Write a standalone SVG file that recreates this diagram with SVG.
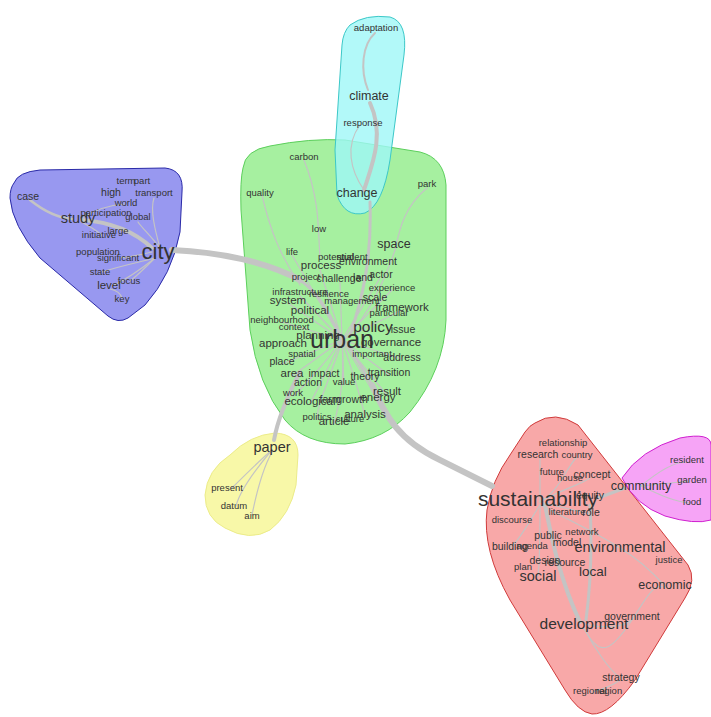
<svg xmlns="http://www.w3.org/2000/svg" width="711" height="717" viewBox="0 0 711 717">
<style>
text{font-family:"Liberation Sans",Arial,sans-serif;fill:#333;text-anchor:middle}
.s9{font-size:9.5px}.s10{font-size:10.5px}.s11{font-size:11.5px}.s12{font-size:12.5px}.s13{font-size:13.5px}.s14{font-size:14.5px}.s15{font-size:15.5px}.s21{font-size:21px}.s22{font-size:22px}.s24{font-size:25px}
.e{fill:none;stroke:#c4c4c4;stroke-linecap:round}
.t{stroke-width:1.2}
.hb{fill:#9898f0;stroke:#2a2aa8}
.hg{fill:#a6f0a0;stroke:#5ccf5c}
.hc{fill:#9ff8f8;stroke:#3cc8c8;fill-opacity:.8}
.hy{fill:#f8f8a8;stroke:#ecec8a}
.hr{fill:#f8a8a8;stroke:#d03a3a}
.hm{fill:#f27ef2;stroke:#d020d0;fill-opacity:.7}
</style>
<rect width="711" height="717" fill="#fff"/>
<g id="hulls">
<path class="hb" d="M 14,183 Q 18,172 40,170 L 165,168 Q 184,170 182,192 L 180,232 Q 172,275 145,305 L 128,318 Q 118,324 108,316 L 40,258 Q 12,225 10,198 Q 10,188 14,183 Z"/>
<path class="hg" d="M 243,168 Q 245,150 270,146 Q 310,138 345,140 L 420,152 Q 444,158 446,185 L 446,320 Q 444,370 410,412 Q 385,440 345,444 Q 305,444 285,420 Q 258,385 250,330 L 241,210 Q 240,180 243,168 Z"/>
<path class="hc" d="M 350,25 Q 365,14 390,17 Q 408,22 404,55 L 390,160 Q 383,205 365,213 Q 345,218 337,195 L 335,150 L 342,45 Q 343,32 350,25 Z"/>
<path class="hy" d="M 230,455 Q 250,435 275,433 Q 298,434 298,455 L 296,485 Q 290,515 270,530 Q 250,542 225,528 Q 205,518 205,495 Q 207,470 230,455 Z"/>
<path class="hr" d="M 535,423 Q 555,410 578,425 L 688,565 Q 697,580 685,598 L 635,680 Q 610,715 592,714 Q 578,712 565,690 L 510,600 Q 482,550 487,510 Q 492,480 510,455 L 525,432 Q 530,425 535,423 Z"/>
<path class="hm" d="M 622,478 Q 640,450 680,438 Q 711,432 711,445 L 711,520 Q 695,525 665,516 Q 635,505 622,478 Z"/>
</g>
<g id="edges">
<path class="e" stroke-width="6" d="M 172,250 C 215,252 262,260 300,280"/>
<path class="e" stroke-width="3" d="M 300,280 C 318,292 330,315 340,335"/>
<path class="e" stroke-width="6" d="M 372,385 C 385,415 398,440 440,460 L 492,486"/>
<path class="e" stroke-width="3" d="M 350,348 C 360,365 366,375 372,385"/>
<path class="e" stroke-width="4" d="M 300,372 C 288,395 278,418 274,440"/>
<path class="e" stroke-width="3" d="M 350,335 C 362,300 372,260 370,202"/>
<path class="e" stroke-width="4" d="M 364,190 C 372,165 385,135 370,103"/>
<path class="e" stroke-width="2" d="M 368,90 C 360,70 362,45 375,33"/>
<path class="e" stroke-width="4" d="M 82,220 C 110,222 135,232 152,248"/>
<path class="e" stroke-width="2.5" d="M 30,200 C 45,212 60,218 72,219"/>
<path class="e" stroke-width="4" d="M 545,505 C 552,540 560,580 580,622"/>
<path class="e" stroke-width="3" d="M 590,505 C 592,545 590,590 586,620"/>
<path class="e" stroke-width="3" d="M 598,498 L 625,488"/>
<path class="e t" d="M 160,248 C 155,230 150,210 154,198"/>
<path class="e t" d="M 160,248 C 150,235 142,228 138,222"/>
<path class="e t" d="M 155,258 C 140,270 125,280 112,286"/>
<path class="e t" d="M 155,258 C 145,268 138,275 130,281"/>
<path class="e t" d="M 152,252 C 140,255 130,257 120,258"/>
<path class="e t" d="M 155,258 C 140,262 120,266 102,272"/>
<path class="e t" d="M 122,298 C 120,292 115,290 110,289"/>
<path class="e t" d="M 82,222 C 92,228 100,232 102,236"/>
<path class="e t" d="M 82,218 C 95,210 110,205 124,204"/>
<path class="e t" d="M 262,195 C 270,230 280,255 300,285"/>
<path class="e t" d="M 304,160 C 320,200 318,230 320,258"/>
<path class="e t" d="M 427,188 C 400,210 398,240 395,250"/>
<path class="e t" d="M 395,250 C 385,280 370,310 350,335"/>
<path class="e t" d="M 342,340 L 292,255"/>
<path class="e t" d="M 342,340 L 320,270"/>
<path class="e t" d="M 342,340 L 340,282"/>
<path class="e t" d="M 342,340 L 380,278"/>
<path class="e t" d="M 342,340 L 392,290"/>
<path class="e t" d="M 342,340 L 402,310"/>
<path class="e t" d="M 342,340 L 300,296"/>
<path class="e t" d="M 342,340 L 288,303"/>
<path class="e t" d="M 342,340 L 282,322"/>
<path class="e t" d="M 342,340 L 402,359"/>
<path class="e t" d="M 342,340 L 389,375"/>
<path class="e t" d="M 342,340 L 292,376"/>
<path class="e t" d="M 342,340 C 320,370 300,390 293,396"/>
<path class="e t" d="M 342,340 C 330,380 318,400 317,419"/>
<path class="e t" d="M 342,340 C 345,380 340,400 334,424"/>
<path class="e t" d="M 342,340 C 355,380 362,400 365,417"/>
<path class="e t" d="M 342,340 L 386,394"/>
<path class="e t" d="M 342,340 L 378,400"/>
<path class="e t" d="M 342,340 L 310,404"/>
<path class="e t" d="M 342,340 L 344,385"/>
<path class="e t" d="M 342,340 L 282,364"/>
<path class="e t" d="M 364,190 C 350,170 345,145 360,125"/>
<path class="e t" d="M 272,450 C 260,460 245,475 232,488"/>
<path class="e t" d="M 272,450 C 255,470 240,490 236,506"/>
<path class="e t" d="M 272,452 C 262,470 255,500 252,515"/>
<path class="e t" d="M 540,502 C 540,480 540,465 540,458"/>
<path class="e t" d="M 540,502 C 560,490 580,485 590,478"/>
<path class="e t" d="M 540,502 C 560,490 565,470 576,458"/>
<path class="e t" d="M 540,502 L 590,514"/>
<path class="e t" d="M 540,505 C 530,520 520,540 510,548"/>
<path class="e t" d="M 540,505 C 540,540 540,560 538,576"/>
<path class="e t" d="M 540,505 C 570,520 600,535 620,548"/>
<path class="e t" d="M 620,548 C 640,560 655,575 665,586"/>
<path class="e t" d="M 584,624 C 610,630 630,625 632,618"/>
<path class="e t" d="M 584,628 C 595,650 610,670 620,678"/>
<path class="e t" d="M 620,680 C 612,686 600,690 592,692"/>
<path class="e t" d="M 584,628 C 600,660 612,650 632,620 C 645,600 655,580 665,588"/>
<path class="e t" d="M 641,486 C 660,470 675,462 686,462"/>
<path class="e t" d="M 641,486 L 690,481"/>
<path class="e t" d="M 641,486 C 660,495 675,502 690,503"/>
</g>
<g id="c-blue">
<g id="n-case"><text class="s10" x="28" y="200">case</text></g>
<g id="n-term"><text class="s9" x="126" y="184">term</text></g>
<g id="n-part"><text class="s9" x="142" y="184">part</text></g>
<g id="n-high"><text class="s10" x="111" y="196">high</text></g>
<g id="n-transport"><text class="s9" x="154" y="196">transport</text></g>
<g id="n-world"><text class="s9" x="126" y="206">world</text></g>
<g id="n-study"><text class="s14" x="78" y="223">study</text></g>
<g id="n-participation"><text class="s9" x="106" y="216">participation</text></g>
<g id="n-global"><text class="s9" x="138" y="220">global</text></g>
<g id="n-initiative"><text class="s9" x="99" y="238">initiative</text></g>
<g id="n-large"><text class="s9" x="118" y="234">large</text></g>
<g id="n-population"><text class="s9" x="98" y="255">population</text></g>
<g id="n-significant"><text class="s9" x="118" y="261">significant</text></g>
<g id="n-city"><text class="s22" x="158" y="259">city</text></g>
<g id="n-state"><text class="s9" x="100" y="275">state</text></g>
<g id="n-focus"><text class="s9" x="129" y="284">focus</text></g>
<g id="n-level"><text class="s11" x="109" y="289">level</text></g>
<g id="n-key"><text class="s9" x="122" y="302">key</text></g>
</g>
<g id="c-cyan">
<g id="n-adaptation"><text class="s9" x="376" y="31">adaptation</text></g>
<g id="n-climate"><text class="s12" x="369" y="100">climate</text></g>
<g id="n-response"><text class="s9" x="363" y="126">response</text></g>
</g>
<g id="c-green">
<g id="n-carbon"><text class="s9" x="304" y="160">carbon</text></g>
<g id="n-quality"><text class="s9" x="260" y="196">quality</text></g>
<g id="n-change"><text class="s12" x="357" y="197">change</text></g>
<g id="n-park"><text class="s9" x="427" y="187">park</text></g>
<g id="n-low"><text class="s9" x="319" y="232">low</text></g>
<g id="n-space"><text class="s12" x="394" y="248">space</text></g>
<g id="n-life"><text class="s9" x="292" y="255">life</text></g>
<g id="n-potential"><text class="s9" x="336" y="260">potential</text></g>
<g id="n-student"><text class="s9" x="352" y="260">student</text></g>
<g id="n-environment"><text class="s10" x="368" y="265">environment</text></g>
<g id="n-process"><text class="s11" x="321" y="269">process</text></g>
<g id="n-project"><text class="s9" x="306" y="280">project</text></g>
<g id="n-challenge"><text class="s10" x="339" y="282">challenge</text></g>
<g id="n-land"><text class="s10" x="363" y="281">land</text></g>
<g id="n-actor"><text class="s10" x="381" y="278">actor</text></g>
<g id="n-experience"><text class="s9" x="392" y="291">experience</text></g>
<g id="n-infrastructure"><text class="s9" x="300" y="295">infrastructure</text></g>
<g id="n-resilience"><text class="s9" x="329" y="297">resilience</text></g>
<g id="n-system"><text class="s11" x="288" y="304">system</text></g>
<g id="n-management"><text class="s9" x="352" y="304">management</text></g>
<g id="n-scale"><text class="s10" x="375" y="301">scale</text></g>
<g id="n-framework"><text class="s11" x="402" y="311">framework</text></g>
<g id="n-particular"><text class="s9" x="389" y="316">particular</text></g>
<g id="n-political"><text class="s11" x="310" y="314">political</text></g>
<g id="n-neighbourhood"><text class="s9" x="282" y="323">neighbourhood</text></g>
<g id="n-context"><text class="s9" x="294" y="330">context</text></g>
<g id="n-policy"><text class="s15" x="373" y="332">policy</text></g>
<g id="n-issue"><text class="s10" x="403" y="333">issue</text></g>
<g id="n-planning"><text class="s11" x="318" y="339">planning</text></g>
<g id="n-urban"><text class="s24" x="342" y="348">urban</text></g>
<g id="n-approach"><text class="s11" x="283" y="347">approach</text></g>
<g id="n-governance"><text class="s11" x="391" y="346">governance</text></g>
<g id="n-spatial"><text class="s9" x="302" y="357">spatial</text></g>
<g id="n-place"><text class="s10" x="282" y="365">place</text></g>
<g id="n-important"><text class="s9" x="372" y="357">important</text></g>
<g id="n-address"><text class="s10" x="402" y="361">address</text></g>
<g id="n-area"><text class="s11" x="292" y="377">area</text></g>
<g id="n-impact"><text class="s10" x="324" y="377">impact</text></g>
<g id="n-transition"><text class="s10" x="389" y="376">transition</text></g>
<g id="n-action"><text class="s10" x="308" y="386">action</text></g>
<g id="n-value"><text class="s9" x="344" y="385">value</text></g>
<g id="n-theory"><text class="s10" x="365" y="380">theory</text></g>
<g id="n-result"><text class="s11" x="387" y="395">result</text></g>
<g id="n-work"><text class="s9" x="293" y="396">work</text></g>
<g id="n-ecological"><text class="s11" x="310" y="405">ecological</text></g>
<g id="n-farm"><text class="s10" x="330" y="403">farm</text></g>
<g id="n-growth"><text class="s10" x="352" y="403">growth</text></g>
<g id="n-energy"><text class="s11" x="378" y="401">energy</text></g>
<g id="n-politics"><text class="s9" x="317" y="420">politics</text></g>
<g id="n-analysis"><text class="s11" x="365" y="418">analysis</text></g>
<g id="n-culture"><text class="s9" x="350" y="422">culture</text></g>
<g id="n-article"><text class="s11" x="334" y="425">article</text></g>
</g>
<g id="c-yellow">
<g id="n-paper"><text class="s14" x="272" y="452">paper</text></g>
<g id="n-present"><text class="s9" x="227" y="491">present</text></g>
<g id="n-datum"><text class="s9" x="234" y="509">datum</text></g>
<g id="n-aim"><text class="s9" x="252" y="519">aim</text></g>
</g>
<g id="c-red">
<g id="n-relationship"><text class="s9" x="563" y="446">relationship</text></g>
<g id="n-research"><text class="s10" x="538" y="458">research</text></g>
<g id="n-country"><text class="s9" x="577" y="458">country</text></g>
<g id="n-future"><text class="s9" x="552" y="475">future</text></g>
<g id="n-house"><text class="s9" x="570" y="481">house</text></g>
<g id="n-concept"><text class="s10" x="592" y="478">concept</text></g>
<g id="n-equity"><text class="s10" x="590" y="499">equity</text></g>
<g id="n-sustainability"><text class="s21" x="538" y="506">sustainability</text></g>
<g id="n-literature"><text class="s9" x="567" y="515">literature</text></g>
<g id="n-role"><text class="s10" x="591" y="516">role</text></g>
<g id="n-discourse"><text class="s9" x="512" y="523">discourse</text></g>
<g id="n-public"><text class="s10" x="548" y="539">public</text></g>
<g id="n-network"><text class="s9" x="582" y="535">network</text></g>
<g id="n-building"><text class="s10" x="510" y="550">building</text></g>
<g id="n-agenda"><text class="s9" x="532" y="549">agenda</text></g>
<g id="n-model"><text class="s10" x="567" y="546">model</text></g>
<g id="n-environmental"><text class="s14" x="620" y="552">environmental</text></g>
<g id="n-justice"><text class="s9" x="669" y="563">justice</text></g>
<g id="n-design"><text class="s10" x="545" y="564">design</text></g>
<g id="n-resource"><text class="s10" x="565" y="566">resource</text></g>
<g id="n-plan"><text class="s9" x="523" y="570">plan</text></g>
<g id="n-social"><text class="s14" x="538" y="581">social</text></g>
<g id="n-local"><text class="s13" x="593" y="576">local</text></g>
<g id="n-economic"><text class="s12" x="665" y="589">economic</text></g>
<g id="n-government"><text class="s10" x="632" y="620">government</text></g>
<g id="n-development"><text class="s15" x="584" y="629">development</text></g>
<g id="n-strategy"><text class="s10" x="621" y="681">strategy</text></g>
<g id="n-regional"><text class="s9" x="590" y="694">regional</text></g>
<g id="n-region"><text class="s9" x="609" y="694">region</text></g>
</g>
<g id="c-magenta">
<g id="n-community"><text class="s12" x="641" y="490">community</text></g>
<g id="n-resident"><text class="s9" x="687" y="463">resident</text></g>
<g id="n-garden"><text class="s9" x="692" y="483">garden</text></g>
<g id="n-food"><text class="s9" x="692" y="505">food</text></g>
</g>
</svg>
